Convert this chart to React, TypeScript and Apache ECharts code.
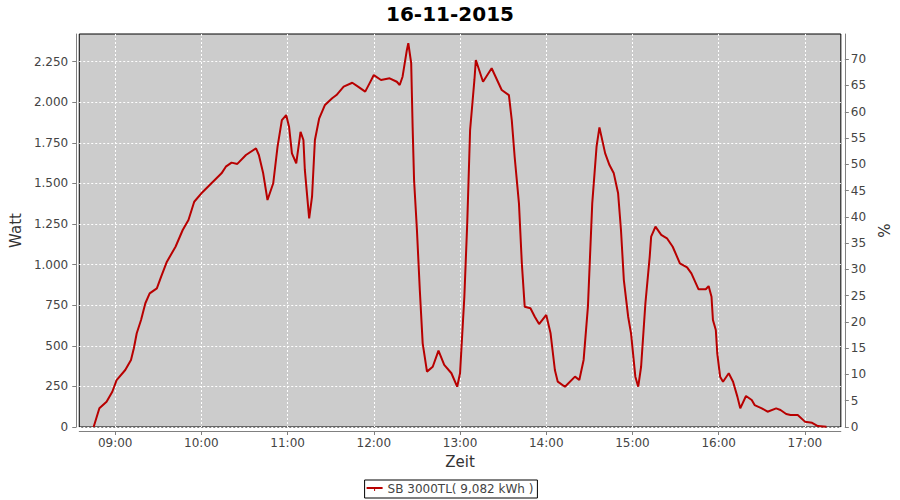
import React, { useEffect, useRef } from "react";
import * as echarts from "echarts";

// Time of day (HH:MM) and power output (Watt)
const times: string[] = [
  "08:45","08:49","08:54","08:58","09:01","09:07","09:11","09:13","09:15","09:18",
  "09:21","09:24","09:29","09:32","09:36","09:42","09:47","09:51","09:55","10:00",
  "10:07","10:14","10:17","10:21","10:25","10:31","10:38","10:40","10:43","10:46",
  "10:50","10:53","10:56","10:59","11:01","11:03","11:06","11:09","11:11","11:12",
  "11:15","11:17","11:19","11:22","11:26","11:31","11:34","11:39","11:45","11:49",
  "11:54","11:57","12:00","12:05","12:11","12:16","12:18","12:20","12:23","12:24",
  "12:26","12:27","12:28","12:30","12:32","12:34","12:37","12:41","12:45","12:49",
  "12:54","12:58","13:00","13:03","13:05","13:07","13:10","13:11","13:16","13:22",
  "13:29","13:34","13:36","13:38","13:41","13:43","13:45","13:49","13:52","13:55",
  "14:00","14:03","14:06","14:08","14:13","14:20","14:23","14:26","14:29","14:32",
  "14:35","14:37","14:41","14:44","14:47","14:50","14:52","14:54","14:57","14:59",
  "15:02","15:04","15:06","15:09","15:12","15:13","15:16","15:20","15:24","15:28",
  "15:33","15:38","15:41","15:46","15:51","15:53","15:55","15:56","15:58","15:59",
  "16:01","16:03","16:07","16:10","16:13","16:15","16:19","16:23","16:25","16:30",
  "16:34","16:40","16:43","16:47","16:50","16:55","17:00","17:05","17:09","17:15",
];
const watts: number[] = [
  0,115,156,217,289,351,413,485,577,659,
  762,823,854,926,1018,1110,1213,1275,1387,1439,
  1501,1562,1603,1628,1620,1675,1716,1675,1562,1398,
  1501,1726,1890,1921,1849,1685,1624,1818,1767,1583,
  1285,1418,1767,1901,1983,2024,2044,2096,2120,2096,
  2065,2116,2167,2137,2147,2126,2106,2157,2322,2363,
  2240,1849,1521,1213,844,515,341,371,470,382,
  331,248,331,802,1254,1829,2137,2260,2126,2209,
  2075,2044,1890,1664,1377,1008,741,731,679,634,
  690,577,351,279,248,310,289,413,741,1377,
  1726,1845,1685,1613,1562,1439,1213,905,679,577,
  310,248,371,762,1049,1172,1234,1183,1162,1110,
  1008,983,946,848,848,868,802,659,597,454,
  310,279,331,279,187,115,191,166,135,115,
  94,115,105,80,74,74,33,26,6,2,
];

const xTickLabels: string[] = ["09:00","10:00","11:00","12:00","13:00","14:00","15:00","16:00","17:00"];
const wattTicks: number[] = [0,250,500,750,1000,1250,1500,1750,2000,2250];
const percentTicks: number[] = [0,5,10,15,20,25,30,35,40,45,50,55,60,65,70];

const titleText = "16-11-2015";
const seriesName = "SB 3000TL( 9,082 kWh )";

const toMin = (s: string) => {
  const [h, m] = s.split(":").map(Number);
  return h * 60 + m;
};
const fmtTime = (v: number) => {
  const h = Math.floor(v / 60);
  const m = Math.round(v - h * 60);
  return String(h).padStart(2, "0") + ":" + String(m).padStart(2, "0");
};
const fmtWatt = (v: number) => {
  const s = String(Math.round(v));
  return s.length > 3 ? s.slice(0, s.length - 3) + "." + s.slice(s.length - 3) : s;
};

const FONT = "DejaVu Sans";
const LABEL = "#444444";
const AXIS = "#808080";

export default function App() {
  const ref = useRef<HTMLDivElement>(null);
  useEffect(() => {
    if (!ref.current) return;
    const chart = echarts.init(ref.current, undefined, { renderer: "svg" });
    const data = times.map((t, i) => [toMin(t), watts[i]]);
    const nameStyle = { fontFamily: FONT, fontSize: 15, fontWeight: "normal", color: "#333333" };
    chart.setOption({
      animation: false,
      backgroundColor: "#ffffff",
      textStyle: { fontFamily: FONT },
      title: {
        text: titleText,
        left: "center",
        top: -1,
        textStyle: { fontFamily: FONT, fontSize: 20, fontWeight: "bold", color: "#000" },
      },
      legend: {
        bottom: 2,
        left: "center",
        data: [seriesName],
        borderColor: "#000",
        borderWidth: 1,
        borderRadius: 0,
        padding: [3, 4, 3, 2],
        itemWidth: 16,
        itemHeight: 6,
        icon: "path://M0,0 L16,0 L16,2 L0,2 Z M7.5,2 L8.5,2 L8.5,4 L7.5,4 Z",
        textStyle: { fontFamily: FONT, fontSize: 12, color: LABEL },
      },
      grid: {
        left: 79,
        right: 52,
        top: 34,
        bottom: 73,
        show: true,
        backgroundColor: "#cccccc",
        borderColor: "#000000",
        borderWidth: 1,
        containLabel: false,
      },
      xAxis: {
        type: "value",
        min: 515,
        max: 1045,
        offset: 4,
        name: "Zeit",
        nameLocation: "middle",
        nameGap: 23,
        nameTextStyle: nameStyle,
        axisLine: { show: true, onZero: false, lineStyle: { color: AXIS, width: 1 } },
        axisTick: { show: true, length: 4, lineStyle: { color: AXIS }, customValues: xTickLabels.map(toMin) },
        axisLabel: {
          customValues: xTickLabels.map(toMin),
          formatter: (v: number) => fmtTime(v),
          fontFamily: FONT,
          fontSize: 12,
          color: LABEL,
          margin: 6,
        },
        splitLine: { show: true, lineStyle: { color: "#ffffff", type: [2, 2], width: 1 } },
      },
      yAxis: [
        {
          type: "value",
          min: 0,
          max: 2420,
          position: "left",
          offset: 3,
          name: "Watt",
          nameLocation: "middle",
          nameGap: 42,
          nameRotate: 90,
          nameTextStyle: nameStyle,
          axisLine: { show: true, lineStyle: { color: AXIS, width: 1 } },
          axisTick: { show: true, length: 4, lineStyle: { color: AXIS }, customValues: wattTicks },
          axisLabel: {
            customValues: wattTicks,
            formatter: (v: number) => fmtWatt(v),
            fontFamily: FONT,
            fontSize: 12,
            color: LABEL,
            margin: 8,
          },
          splitLine: { show: true, lineStyle: { color: "#ffffff", type: [2, 2], width: 1 } },
        },
        {
          type: "value",
          min: 0,
          max: 74.8,
          position: "right",
          offset: 4,
          name: "%",
          nameLocation: "middle",
          nameGap: 25,
          nameRotate: 90,
          nameTextStyle: nameStyle,
          axisLine: { show: true, lineStyle: { color: AXIS, width: 1 } },
          axisTick: { show: true, length: 4, lineStyle: { color: AXIS }, customValues: percentTicks },
          axisLabel: {
            customValues: percentTicks,
            fontFamily: FONT,
            fontSize: 12,
            color: LABEL,
            margin: 6,
          },
          splitLine: { show: false },
        },
      ],
      series: [
        {
          name: seriesName,
          type: "line",
          yAxisIndex: 0,
          data,
          showSymbol: false,
          smooth: false,
          lineStyle: { color: "#b80000", width: 2 },
          itemStyle: { color: "#b80000" },
        },
      ],
    });
    return () => chart.dispose();
  }, []);
  return (
    <div
      ref={ref}
      style={{ position: "fixed", left: 0, top: 0, width: 900, height: 500 }}
    />
  );
}
